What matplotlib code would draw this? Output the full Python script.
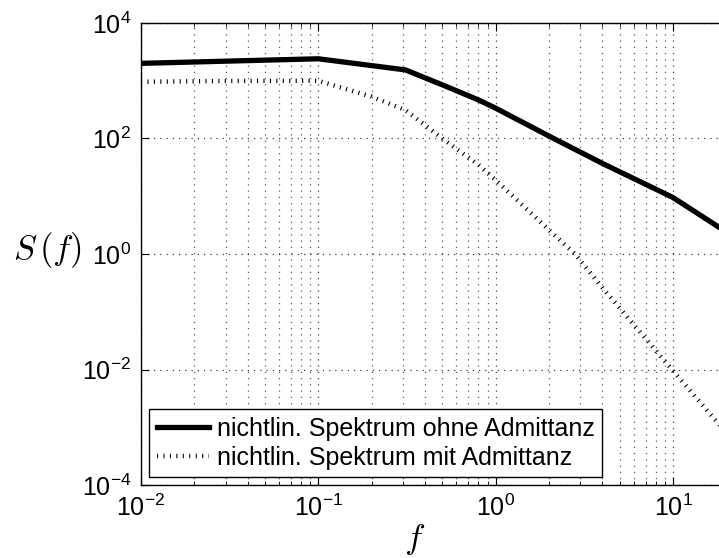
import numpy as np
import matplotlib
matplotlib.use("Agg")
import matplotlib.pyplot as plt
from matplotlib.ticker import FixedLocator, LogLocator, NullFormatter, NullLocator

plt.rcParams["font.family"] = ["Liberation Sans", "DejaVu Sans"]
plt.rcParams["mathtext.fontset"] = "cm"
plt.rcParams["font.size"] = 18

# Spektrum ohne Admittanz (durchgezogen)
f_ohne = [0.01, 0.1, 0.31, 0.5, 0.8, 1.0, 2.0, 4.0, 10.0, 20.0]
s_ohne = [2000, 2400, 1540, 850, 465, 335, 110, 37, 9.5, 2.4]

# Spektrum mit Admittanz (gepunktet)
f_mit = [0.01, 0.03, 0.1, 0.12, 0.2, 0.31, 0.5, 0.8, 1.0, 2.0, 2.8, 4.0, 6.0, 10.0, 20.0]
s_mit = [960, 990, 1000, 845, 530, 310, 100, 35, 19, 2.6, 1.0, 0.26, 0.06, 0.0095, 0.0008]

legende = ["nichtlin. Spektrum ohne Admittanz", "nichtlin. Spektrum mit Admittanz"]
y_ticks = [1e-4, 1e-2, 1e0, 1e2, 1e4]

fig = plt.figure(figsize=(7.19, 5.58), dpi=100)
ax = fig.add_axes([0.1961, 0.1308, 0.8142, 0.828])

ax.loglog(f_ohne, s_ohne, color="black", linewidth=3.8, solid_joinstyle="miter",
          label=legende[0])
ax.loglog(f_mit, s_mit, color="black", linewidth=3.2, linestyle=(0, (0.25, 1.2)),
          dash_capstyle="butt", label=legende[1])

ax.set_xlim(1e-2, 20)
ax.set_ylim(1e-4, 1e4)

ax.yaxis.set_major_locator(FixedLocator(y_ticks))
ax.yaxis.set_minor_locator(NullLocator())
ax.xaxis.set_minor_locator(LogLocator(base=10, subs=np.arange(2, 10), numticks=20))
ax.xaxis.set_minor_formatter(NullFormatter())

ax.grid(True, which="major", axis="both", linestyle=(0, (1, 4)), color="0.25", linewidth=0.9)
ax.grid(True, which="minor", axis="x", linestyle=(0, (1, 4)), color="0.35", linewidth=0.9)

ax.tick_params(which="both", direction="in", top=True, right=False)
ax.tick_params(which="major", length=6, width=0.8, pad=7)
ax.tick_params(which="minor", length=3, width=0.6)
for s in ax.spines.values():
    s.set_linewidth(1.0)

ax.set_xlabel(r"$f$", fontsize=25)
ax.xaxis.set_label_coords(0.467, -0.08)
ax.set_ylabel(r"$S\,(f)$", fontsize=25, rotation=0)
ax.yaxis.set_label_coords(-0.16, 0.465)

leg = ax.legend(loc="lower left", bbox_to_anchor=(0.0137, 0.017), borderaxespad=0,
                fancybox=False, framealpha=1, edgecolor="black", handlelength=2.1,
                handletextpad=0.3, borderpad=0.3, labelspacing=0.2, fontsize=18)
leg.get_frame().set_linewidth(1.0)

fig.savefig("out.png", dpi=100)
